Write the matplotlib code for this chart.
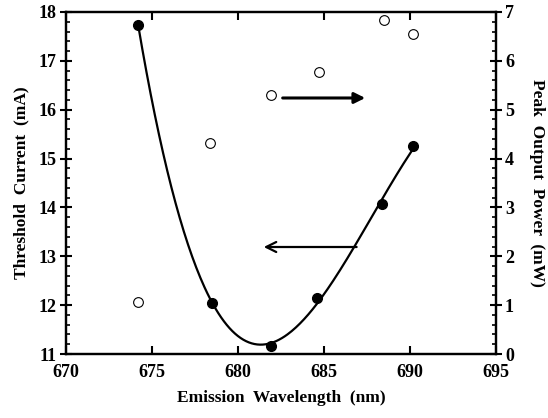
import matplotlib
matplotlib.use('Agg')
import matplotlib.pyplot as plt
import numpy as np

plt.rcParams['font.family'] = ['Liberation Serif', 'DejaVu Serif']
plt.rcParams['font.weight'] = 'bold'

TICKSIZE = 13
LBLSIZE = 12.5

# threshold current (filled) and output power (open)
wl_ith = [674.2, 678.5, 681.9, 684.6, 688.4, 690.2]
ith = [17.73, 12.05, 11.16, 12.15, 14.07, 15.26]
wl_pw = [674.2, 678.4, 681.9, 684.7, 688.5, 690.2]
pw = [1.06, 4.31, 5.30, 5.78, 6.84, 6.54]

fig = plt.figure(figsize=(5.48, 4.18), dpi=100)
ax = fig.add_axes([0.1204, 0.1531, 0.7846, 0.8182])
ax2 = ax.twinx()

# smooth fit through the threshold data
cf = np.polyfit(wl_ith, ith, 3)
xx = np.linspace(wl_ith[0], wl_ith[-1], 200)
ax.plot(xx, np.polyval(cf, xx), color='black', lw=1.6)
ax.plot(wl_ith, ith, 'o', color='black', ms=7)
ax2.plot(wl_pw, pw, 'o', mfc='white', mec='black', mew=0.8, ms=7)

ax.set_xlim(670, 695)
ax.set_ylim(11, 18)
ax2.set_ylim(0, 7)
ax.set_xticks(np.arange(670, 696, 5))
ax.set_yticks(np.arange(11, 19, 1))
ax.set_yticks(np.arange(11, 18.01, 0.2), minor=True)
ax2.set_yticks(np.arange(0, 8, 1))
ax2.set_yticks(np.arange(0, 7.01, 0.2), minor=True)

ax.tick_params(axis='x', which='major', direction='in', length=6, width=1.5,
               top=True, labelsize=TICKSIZE, pad=7)
ax.tick_params(axis='y', which='major', direction='inout', length=9, width=1.5,
               labelsize=TICKSIZE, pad=2)
ax.tick_params(axis='y', which='minor', direction='in', length=3, width=1.2)
ax2.tick_params(axis='y', which='major', direction='inout', length=9, width=1.5,
                labelsize=TICKSIZE, pad=2)
ax2.tick_params(axis='y', which='minor', direction='in', length=3, width=1.2)

for a in (ax, ax2):
    for s in a.spines.values():
        s.set_linewidth(1.6)

ax.set_xlabel('Emission  Wavelength  (nm)', fontsize=LBLSIZE, fontweight='bold', labelpad=7)
ax.set_ylabel('Threshold  Current  (mA)', fontsize=LBLSIZE, fontweight='bold', labelpad=7)
ax2.set_ylabel('Peak  Output  Power  (mW)', fontsize=LBLSIZE, fontweight='bold',
               rotation=-90, labelpad=22)

# arrows pointing to the axis each series belongs to
ax2.annotate('', xy=(687.4, 5.24), xytext=(682.6, 5.24),
             arrowprops=dict(arrowstyle='-|>', color='black', lw=2.2,
                             mutation_scale=16, shrinkA=0, shrinkB=0))
ax.annotate('', xy=(681.5, 13.19), xytext=(686.9, 13.19),
            arrowprops=dict(arrowstyle='->', color='black', lw=1.6,
                            mutation_scale=18, shrinkA=0, shrinkB=0))

plt.savefig('out.png', dpi=100)
